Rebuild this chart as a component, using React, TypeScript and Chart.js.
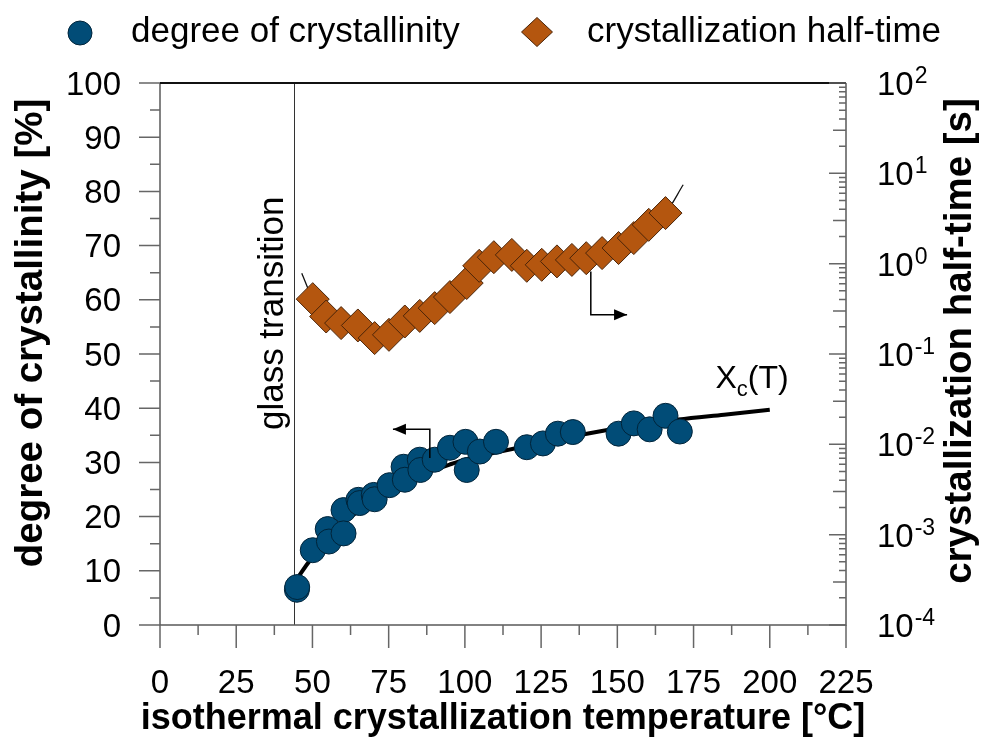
import React, { useEffect, useRef } from 'react';
import { Chart, registerables } from 'chart.js';

Chart.register(...registerables);

// ---------- data ----------
const crystT = [44.9, 45, 50.1, 55, 55.4, 60.2, 60.2, 65.1, 65.5, 70.1, 70.4, 75.3, 79.9, 80.3, 85.2, 85.4, 90.1, 95.1, 100.2, 100.6, 104.9, 110.2, 120.3, 125.6, 130.5, 135.4, 150.4, 155.4, 160.6, 165.8, 170.5];
const crystVal = [6.5, 7.0, 13.8, 17.7, 15.4, 21.2, 16.9, 23.1, 22.5, 24.0, 23.2, 25.8, 29.2, 26.8, 30.5, 28.6, 30.5, 32.7, 33.8, 28.6, 32.0, 33.8, 32.8, 33.5, 35.3, 35.6, 35.3, 37.2, 36.1, 38.6, 35.7];

const halfT = [50.1, 54.5, 59.4, 64.9, 70.4, 75.1, 80.3, 85.2, 90.1, 95.1, 100.6, 104.7, 109.5, 115.4, 120.3, 125.2, 130.2, 135.1, 139.8, 145.0, 150.4, 155.4, 160.3, 165.8];
const halfVal = [0.405, 0.26, 0.22, 0.207, 0.15, 0.163, 0.229, 0.264, 0.322, 0.427, 0.61, 0.947, 1.18, 1.25, 0.947, 0.971, 1.06, 1.10, 1.15, 1.31, 1.49, 1.92, 2.69, 3.63];

// fitted X_c(T) curve
const fitT = [45, 48.5, 50, 55, 60, 65, 70, 75, 80, 85, 90, 95, 100, 110, 120, 130, 140, 150, 160, 170, 185, 200];
const fitX = [8.6, 11.4, 12.5, 15.9, 18.7, 21.0, 23.0, 24.7, 26.2, 27.5, 28.6, 29.6, 30.5, 31.8, 33.0, 34.2, 35.3, 36.3, 37.1, 37.9, 38.8, 39.7];

// half-time guide line end points (visible beyond the first / last diamond)
const halfFitStart = [46.5, 0.785];
const halfFitEnd = [171.6, 7.47];

// tick values / labels
const xTicks = [0, 25, 50, 75, 100, 125, 150, 175, 200, 225];
const xMinorTicks = [12.5, 37.5, 62.5, 87.5, 112.5, 137.5, 162.5, 187.5, 212.5];
const yTicks = [0, 10, 20, 30, 40, 50, 60, 70, 80, 90, 100];
const yMinorTicks = [5, 15, 25, 35, 45, 55, 65, 75, 85, 95];
const y2Exponents = [2, 1, 0, -1, -2, -3, -4];
const y2Mantissas = [2, 3, 4, 5, 6, 7, 8, 9];

// annotations (data units)
const glassT = 44;
const glassLabel = 'glass transition';
const glassLabelPos = [37.2, 57.5];
const xcLabelPos = [182.2, 43.8];
const leftArrowT = [88.5, 88.5, 76.4];
const leftArrowV = [30.8, 36.1, 36.1];
const rightArrowT = [141.3, 141.3, 153.2];
const rightArrowV = [0.818, 0.272, 0.272];

const seriesLabels = ['degree of crystallinity', 'crystallization half-time'];
const xTitle = 'isothermal crystallization temperature [°C]';
const yTitle = 'degree of crystallinity [%]';
const y2Title = 'crystallization half-time [s]';

const FONT = '"Liberation Sans", Arial, Helvetica, sans-serif';
const BLUE = '#014C77';
const BLUE_BORDER = '#00243A';
const ORANGE = '#B4560F';
const ORANGE_BORDER = '#4A2408';

function drawArrow(ctx: CanvasRenderingContext2D, pts: number[][]) {
  ctx.beginPath();
  ctx.moveTo(pts[0][0], pts[0][1]);
  for (let i = 1; i < pts.length; i++) ctx.lineTo(pts[i][0], pts[i][1]);
  ctx.stroke();
  const [x1, y1] = pts[pts.length - 2];
  const [x2, y2] = pts[pts.length - 1];
  const ang = Math.atan2(y2 - y1, x2 - x1);
  const len = 13, hw = 5.5;
  ctx.beginPath();
  ctx.moveTo(x2, y2);
  ctx.lineTo(x2 - len * Math.cos(ang) + hw * Math.sin(ang), y2 - len * Math.sin(ang) - hw * Math.cos(ang));
  ctx.lineTo(x2 - len * Math.cos(ang) - hw * Math.sin(ang), y2 - len * Math.sin(ang) + hw * Math.cos(ang));
  ctx.closePath();
  ctx.fill();
}

const decorPlugin = {
  id: 'decor',
  beforeDatasetsDraw(chart: any) {
    const { ctx, chartArea: a, scales } = chart;
    const gx = Math.round(scales.x.getPixelForValue(glassT)) + 0.5;
    ctx.save();
    ctx.strokeStyle = '#333';
    ctx.lineWidth = 1;
    ctx.beginPath();
    ctx.moveTo(gx, a.top);
    ctx.lineTo(gx, a.bottom);
    ctx.stroke();
    ctx.restore();
  },
  afterDatasetsDraw(chart: any) {
    const { ctx, scales } = chart;
    const { x, y, y2 } = scales;
    ctx.save();
    ctx.strokeStyle = '#000';
    ctx.fillStyle = '#000';
    ctx.lineWidth = 1.5;
    drawArrow(ctx, leftArrowT.map((t, i) => [x.getPixelForValue(t), y.getPixelForValue(leftArrowV[i])]));
    drawArrow(ctx, rightArrowT.map((t, i) => [x.getPixelForValue(t), y2.getPixelForValue(rightArrowV[i])]));

    // X_c(T) label
    let px = x.getPixelForValue(xcLabelPos[0]);
    const py = y.getPixelForValue(xcLabelPos[1]);
    ctx.textBaseline = 'alphabetic';
    ctx.textAlign = 'left';
    ctx.font = `32px ${FONT}`;
    ctx.fillText('X', px, py);
    px += ctx.measureText('X').width;
    ctx.font = `22px ${FONT}`;
    ctx.fillText('c', px, py + 8);
    px += ctx.measureText('c').width;
    ctx.font = `32px ${FONT}`;
    ctx.fillText('(T)', px, py);

    // glass transition label
    ctx.save();
    ctx.translate(x.getPixelForValue(glassLabelPos[0]), y.getPixelForValue(glassLabelPos[1]));
    ctx.rotate(-Math.PI / 2);
    ctx.font = `35px ${FONT}`;
    ctx.textAlign = 'center';
    ctx.textBaseline = 'middle';
    ctx.fillText(glassLabel, 0, 0);
    ctx.restore();
    ctx.restore();
  },
  afterDraw(chart: any) {
    const { ctx, chartArea: a, scales } = chart;
    const { x, y, y2 } = scales;
    ctx.save();
    // frame
    ctx.lineWidth = 1.5;
    ctx.strokeStyle = '#5a5a5a';
    ctx.beginPath();
    ctx.moveTo(a.left, a.top); ctx.lineTo(a.left, a.bottom); ctx.lineTo(a.right, a.bottom); ctx.lineTo(a.right, a.top);
    ctx.stroke();
    ctx.strokeStyle = '#111';
    ctx.lineWidth = 2;
    ctx.beginPath();
    ctx.moveTo(a.left, a.top); ctx.lineTo(a.right, a.top);
    ctx.stroke();

    // ticks
    ctx.strokeStyle = '#666';
    ctx.lineWidth = 1.5;
    ctx.beginPath();
    xTicks.forEach(v => { const p = x.getPixelForValue(v); ctx.moveTo(p, a.bottom); ctx.lineTo(p, a.bottom + 23); });
    xMinorTicks.forEach(v => { const p = x.getPixelForValue(v); ctx.moveTo(p, a.bottom); ctx.lineTo(p, a.bottom + 10); });
    yTicks.forEach(v => { const p = y.getPixelForValue(v); ctx.moveTo(a.left, p); ctx.lineTo(a.left - 21, p); });
    yMinorTicks.forEach(v => { const p = y.getPixelForValue(v); ctx.moveTo(a.left, p); ctx.lineTo(a.left - 10, p); });
    y2Exponents.forEach(e => {
      const p = y2.getPixelForValue(Math.pow(10, e));
      ctx.moveTo(a.right, p); ctx.lineTo(a.right - 17, p);
      if (e < 2) {
        y2Mantissas.forEach(m => {
          const q = y2.getPixelForValue(m * Math.pow(10, e));
          const l = m === 3 ? 13 : 7;
          ctx.moveTo(a.right, q); ctx.lineTo(a.right - l, q);
        });
      }
    });
    ctx.stroke();

    // tick labels
    ctx.fillStyle = '#000';
    ctx.font = `33px ${FONT}`;
    ctx.textBaseline = 'alphabetic';
    ctx.textAlign = 'center';
    xTicks.forEach(v => ctx.fillText(String(v), x.getPixelForValue(v), 693));
    ctx.textAlign = 'right';
    yTicks.forEach(v => ctx.fillText(String(v), a.left - 39, y.getPixelForValue(v) + 11.5));
    ctx.textAlign = 'left';
    y2Exponents.forEach(e => {
      const p = y2.getPixelForValue(Math.pow(10, e));
      ctx.font = `33px ${FONT}`;
      ctx.fillText('10', a.right + 31, p + 12);
      const w = ctx.measureText('10').width;
      ctx.font = `23px ${FONT}`;
      ctx.fillText(e < 0 ? '-' + Math.abs(e) : String(e), a.right + 31 + w + 1, p);
    });

    // axis titles
    ctx.textAlign = 'center';
    ctx.textBaseline = 'middle';
    ctx.font = `bold 36px ${FONT}`;
    ctx.fillText(xTitle, (a.left + a.right) / 2, 719);
    ctx.font = `bold 38.5px ${FONT}`;
    ctx.save();
    ctx.translate(31, (a.top + a.bottom) / 2 - 21);
    ctx.rotate(-Math.PI / 2);
    ctx.fillText(yTitle, 0, 0);
    ctx.restore();
    ctx.save();
    ctx.translate(960, (a.top + a.bottom) / 2 - 13);
    ctx.rotate(-Math.PI / 2);
    ctx.fillText(y2Title, 0, 0);
    ctx.restore();

    // legend
    ctx.lineWidth = 1;
    ctx.beginPath();
    ctx.arc(80, 33, 12, 0, Math.PI * 2);
    ctx.fillStyle = BLUE; ctx.fill();
    ctx.strokeStyle = BLUE_BORDER; ctx.stroke();
    ctx.beginPath();
    ctx.moveTo(537, 17.5); ctx.lineTo(552.5, 32); ctx.lineTo(537, 46.5); ctx.lineTo(521.5, 32); ctx.closePath();
    ctx.fillStyle = ORANGE; ctx.fill();
    ctx.strokeStyle = ORANGE_BORDER; ctx.stroke();
    ctx.fillStyle = '#000';
    ctx.font = `35px ${FONT}`;
    ctx.textAlign = 'left';
    ctx.textBaseline = 'alphabetic';
    ctx.fillText(seriesLabels[0], 131, 42);
    ctx.fillText(seriesLabels[1], 587, 42);
    ctx.restore();
  },
};

export default function App() {
  const ref = useRef<HTMLCanvasElement | null>(null);
  useEffect(() => {
    if (!ref.current) return;
    const fitData = fitT.map((t, i) => ({ x: t, y: fitX[i] }));
    const halfFit = [
      { x: halfFitStart[0], y: halfFitStart[1] },
      ...halfT.map((t, i) => ({ x: t, y: halfVal[i] })),
      { x: halfFitEnd[0], y: halfFitEnd[1] },
    ];
    const chart = new Chart(ref.current, {
      type: 'scatter',
      data: {
        datasets: [
          {
            label: 'Xc(T)',
            data: fitData,
            showLine: true,
            borderColor: '#000',
            borderWidth: 4,
            pointRadius: 0,
            cubicInterpolationMode: 'monotone',
            yAxisID: 'y',
            order: 3,
          },
          {
            label: 'half-time guide',
            data: halfFit,
            showLine: true,
            borderColor: '#111',
            borderWidth: 1.3,
            pointRadius: 0,
            cubicInterpolationMode: 'monotone',
            yAxisID: 'y2',
            order: 3,
          },
          {
            label: seriesLabels[0],
            data: crystT.map((t, i) => ({ x: t, y: crystVal[i] })),
            pointStyle: 'circle',
            pointRadius: 12.5,
            backgroundColor: BLUE,
            borderColor: BLUE_BORDER,
            borderWidth: 1,
            yAxisID: 'y',
            order: 1,
          },
          {
            label: seriesLabels[1],
            data: halfT.map((t, i) => ({ x: t, y: halfVal[i] })),
            pointStyle: 'rectRot',
            pointRadius: 16.5,
            backgroundColor: ORANGE,
            borderColor: ORANGE_BORDER,
            borderWidth: 1,
            yAxisID: 'y2',
            order: 1,
          },
        ] as any,
      },
      options: {
        responsive: false,
        animation: false,
        events: [],
        layout: { padding: { top: 83, left: 0, right: 0, bottom: 0 } },
        plugins: { legend: { display: false }, tooltip: { enabled: false }, title: { display: false } },
        scales: {
          x: {
            type: 'linear',
            min: 0,
            max: 225,
            ticks: { display: false, stepSize: 25 },
            grid: { display: false },
            border: { display: false },
            afterFit: (s: any) => { s.height = 118; },
          },
          y: {
            type: 'linear',
            position: 'left',
            min: 0,
            max: 100,
            ticks: { display: false, stepSize: 10 },
            grid: { display: false },
            border: { display: false },
            afterFit: (s: any) => { s.width = 160; },
          },
          y2: {
            type: 'logarithmic',
            position: 'right',
            min: 1e-4,
            max: 1e2,
            ticks: { display: false },
            grid: { display: false },
            border: { display: false },
            afterFit: (s: any) => { s.width = 137; },
          },
        },
      } as any,
      plugins: [decorPlugin],
    });
    return () => chart.destroy();
  }, []);
  return (
    <div style={{ position: 'fixed', left: 0, top: 0, width: 983, height: 743, background: '#fff' }}>
      <canvas ref={ref} width={983} height={743} style={{ display: 'block' }} />
    </div>
  );
}
